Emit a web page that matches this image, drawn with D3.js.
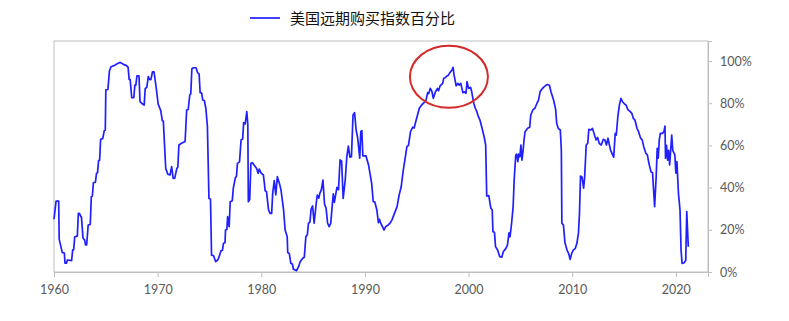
<!DOCTYPE html>
<html>
<head>
<meta charset="utf-8">
<script src="https://cdn.jsdelivr.net/npm/d3@7"></script>
<style>
  html, body { margin: 0; padding: 0; background: #fff; }
  svg { display: block; }
</style>
</head>
<body>
<svg id="chart" width="789" height="321"></svg>
<script>
const seriesName = "美国远期购买指数百分比";
const xTicks = [1960, 1970, 1980, 1990, 2000, 2010, 2020];
const yTicks = [0, 0.2, 0.4, 0.6, 0.8, 1.0];

const years = [
1960.0,1960.2,1960.45,1960.5,1960.8,1961.0,1961.06,1961.2,1961.3,1961.7,1961.8,1961.9,
1962.0,1962.25,1962.35,1962.45,1962.6,1962.65,1962.8,1962.95,1963.05,1963.15,1963.3,1963.5,
1963.6,1963.7,1963.8,1964.0,1964.1,1964.2,1964.3,1964.4,1964.5,1964.7,1964.85,1964.95,
1965.0,1965.2,1965.35,1965.5,1965.8,1966.05,1966.3,1966.45,1966.7,1967.0,1967.15,1967.25,
1967.35,1967.5,1967.7,1967.8,1967.9,1968.0,1968.2,1968.3,1968.45,1968.7,1968.8,1968.95,
1969.1,1969.2,1969.35,1969.5,1969.65,1969.85,1970.05,1970.3,1970.45,1970.55,1970.78,1970.97,
1971.2,1971.35,1971.5,1971.65,1971.85,1971.95,1972.05,1972.3,1972.65,1972.8,1972.95,1973.1,
1973.2,1973.3,1973.45,1973.7,1973.85,1974.0,1974.1,1974.25,1974.35,1974.5,1974.65,1974.8,
1974.95,1975.1,1975.2,1975.4,1975.6,1975.8,1975.95,1976.1,1976.25,1976.35,1976.5,1976.55,
1976.68,1976.75,1976.9,1977.0,1977.2,1977.3,1977.5,1977.6,1977.7,1977.9,1978.05,1978.2,
1978.3,1978.45,1978.6,1978.7,1978.75,1978.88,1979.0,1979.15,1979.3,1979.55,1979.7,1979.8,
1980.0,1980.2,1980.3,1980.37,1980.5,1980.7,1980.85,1981.0,1981.1,1981.25,1981.4,1981.55,
1981.75,1981.9,1982.15,1982.3,1982.5,1982.55,1982.7,1982.85,1983.0,1983.1,1983.25,1983.4,
1983.6,1983.75,1984.0,1984.15,1984.3,1984.45,1984.55,1984.7,1984.8,1984.95,1985.1,1985.3,
1985.4,1985.55,1985.65,1985.8,1985.95,1986.1,1986.25,1986.4,1986.55,1986.7,1986.85,1986.95,
1987.05,1987.3,1987.45,1987.6,1987.75,1987.9,1988.1,1988.25,1988.4,1988.55,1988.7,1988.85,
1989.0,1989.15,1989.3,1989.5,1989.6,1989.7,1989.8,1990.1,1990.35,1990.5,1990.65,1990.8,
1990.95,1991.15,1991.3,1991.4,1991.5,1991.85,1992.0,1992.25,1992.4,1992.6,1992.85,1993.1,
1993.3,1993.5,1993.7,1993.9,1994.05,1994.2,1994.4,1994.6,1994.75,1994.9,1995.1,1995.25,
1995.4,1995.65,1995.9,1996.05,1996.15,1996.3,1996.45,1996.6,1996.8,1997.0,1997.1,1997.25,
1997.5,1997.6,1997.75,1997.9,1998.05,1998.2,1998.4,1998.5,1998.6,1998.8,1998.95,1999.1,
1999.25,1999.45,1999.6,1999.75,1999.85,2000.0,2000.2,2000.3,2000.5,2000.65,2000.8,2000.95,
2001.1,2001.3,2001.5,2001.65,2001.75,2001.95,2002.15,2002.28,2002.35,2002.5,2002.6,2002.8,
2003.0,2003.2,2003.35,2003.6,2003.75,2003.9,2004.0,2004.15,2004.3,2004.4,2004.55,2004.65,
2004.75,2004.85,2004.95,2005.05,2005.15,2005.25,2005.35,2005.45,2005.7,2005.9,2006.0,2006.2,
2006.4,2006.6,2006.75,2006.9,2007.05,2007.2,2007.4,2007.6,2007.8,2007.95,2008.2,2008.4,
2008.5,2008.65,2008.85,2008.95,2009.0,2009.15,2009.3,2009.5,2009.65,2009.8,2009.95,2010.1,
2010.3,2010.45,2010.6,2010.7,2010.8,2010.95,2011.1,2011.2,2011.35,2011.5,2011.6,2011.8,
2011.95,2012.1,2012.3,2012.45,2012.6,2012.8,2013.0,2013.15,2013.3,2013.45,2013.55,2013.7,
2013.9,2014.0,2014.15,2014.25,2014.4,2014.55,2014.7,2014.85,2015.05,2015.2,2015.35,2015.6,
2015.75,2015.9,2016.05,2016.25,2016.4,2016.6,2016.75,2016.9,2017.1,2017.25,2017.4,2017.6,
2017.75,2017.85,2017.95,2018.1,2018.2,2018.3,2018.4,2018.5,2018.7,2018.85,2018.95,2019.0,
2019.1,2019.2,2019.3,2019.4,2019.6,2019.7,2019.9,2020.0,2020.1,2020.25,2020.4,2020.5,
2020.6,2020.8,2020.95,2021.05,2021.1,2021.2
];

const values = [
25,33.6,33.6,15.6,9.2,9,4.2,4.2,5.7,5.4,10.4,10.6,
16.7,17,27.8,27.8,26.2,26,16,15.2,12.8,12.8,22.3,22.6,
35.7,36,42.3,42.6,46.8,47,52.8,53,62.9,63.2,67,67.3,
86.3,86.5,95.4,97.3,97.8,98.6,99.2,99.2,98.4,97.8,97,91.3,
91.2,82.6,82.6,88.6,88.6,93,93,80.7,80,79.1,87,87.4,
92.6,91.3,91.2,94.8,94.8,87.8,79.6,76.5,71.7,71.5,49.1,46.4,
46,49.9,44.4,44.5,49.1,49.8,60.2,61,61.9,76.8,77,83.9,
84.5,96.2,96.8,96.8,94.5,93.8,85,84.8,81.5,81.3,77.6,69.2,
34.9,34.5,8,7.7,4.9,5.7,7.5,10,10.3,13.6,13.9,19.9,
20.2,26.2,21.5,33.3,33.8,39.7,44.7,45.2,51.5,52.2,62.6,63,
70.8,70.2,76,70,33.3,34.3,51.5,51.8,50.7,49.1,46.8,48.8,
46.8,46,42,38.5,38.2,29.4,27.8,27.8,37.3,43.3,36.5,45.2,
42,38.9,29.4,19.9,16.7,9.2,8.8,4.1,3.8,1.3,1,0.6,
2.5,4.9,6.5,7,16.7,17.8,23.1,23.8,29.7,31.3,23.1,32.6,
36.5,35,37.3,39,43.6,32.2,30.3,23.1,21.5,23.1,31.8,37,
33,40.1,39,53.1,52.5,34.9,43.6,54.6,59.7,54.4,54.6,74.4,
75.5,67.3,63.5,53.9,66.5,67,55,55,50.7,46.4,42,33.3,
33.3,29.4,23.4,25,23.4,19.9,21.5,22.3,23,24.6,27.8,31,
36.5,40.4,48.3,54.6,59.4,60,66.5,68.6,68.2,71.2,74.9,77.6,
78.7,80,81.5,85,84.5,87,85.8,82.3,85.4,87,85.9,88.2,
89.4,91.8,92.1,92.9,93.3,94.5,95.7,97,93.4,88.2,89.4,88.6,
89.4,85,85.4,84.7,90.2,87,87.5,85.4,80,77.6,76,73.6,
72,68.1,64.1,60.2,36,36.2,30.2,29.5,19.1,18.8,12,10.4,
7.3,7,9.6,11.2,12.8,18.6,16.7,23.1,31,43.6,55.4,55.9,
52.3,55.9,54.6,60.2,53,57,62.6,66.5,68.1,68.6,74.4,76.8,
77.6,80,81.5,85.4,86.5,87.4,88.2,88.9,88.5,85.4,81.5,77.1,
70.5,68.1,67.3,57.8,23.1,22.3,13.9,10.4,8.8,6,8.8,10.4,
11.2,13.6,18.3,27.8,45.5,44.9,39.7,45.2,60.2,61,67.6,67.3,
68.1,65.7,62.6,63.8,61,60.2,62.9,62.6,60.2,63.4,61,57.8,
55.5,54.4,65.7,64.9,73.6,79.1,82.3,80.7,79.6,79.1,77.1,76,
75.2,72.8,72,68.1,66.5,63.4,62.6,59.4,56.3,55.5,51.5,47.5,
47,38.9,31,45.2,58.6,54,62.6,65.7,65.7,66.5,69.2,53.9,
60,53,57.6,50.7,64.9,57.6,55.5,46.8,52.3,37.3,29.4,10.4,
4.1,4.4,5.4,28.6,23,12
];

const highlightYear = 1998.2;   // centre of the circled peak
const highlightValue = 0.93;

const n = Math.min(years.length, values.length);
const data = years.slice(0, n).map((yr, i) => ({ x: yr, v: values[i] / 100 }));

const svg = d3.select("#chart");
const mLeft = 54, mRight = 708, mTop = 41, mBottom = 272;

const x = d3.scaleLinear().domain([1960, 2023.1]).range([mLeft, mRight]);
const y = d3.scaleLinear().domain([0, 1.0948]).range([mBottom, mTop]);

const axisColor = "#bfbfbf";
const textColor = "#595959";

// frame
svg.append("rect")
  .attr("x", mLeft).attr("y", mTop)
  .attr("width", mRight - mLeft).attr("height", mBottom - mTop)
  .attr("fill", "none").attr("stroke", axisColor).attr("stroke-width", 1);

// x axis
const gx = svg.append("g")
  .attr("transform", `translate(0,${mBottom})`)
  .call(d3.axisBottom(x).tickValues(xTicks).tickFormat(d3.format("d")).tickSize(5).tickPadding(8));
gx.select(".domain").attr("stroke", axisColor);
gx.selectAll(".tick line").attr("stroke", axisColor);
gx.selectAll(".tick text")
  .attr("fill", textColor)
  .style("font-family", "Lato, 'Open Sans', sans-serif")
  .style("font-size", "12.5px");

// y axis (right)
const gy = svg.append("g")
  .attr("transform", `translate(${mRight},0)`)
  .call(d3.axisRight(y).tickValues(yTicks).tickFormat(d3.format(".0%")).tickSize(4).tickPadding(8));
gy.select(".domain").attr("stroke", axisColor);
gy.selectAll(".tick line").attr("stroke", axisColor);
gy.selectAll(".tick text")
  .attr("fill", textColor)
  .style("font-family", "Lato, 'Open Sans', sans-serif")
  .style("font-size", "12.5px");

// line
const line = d3.line().x(d => x(d.x)).y(d => y(d.v)).curve(d3.curveLinear);
svg.append("path")
  .datum(data)
  .attr("fill", "none")
  .attr("stroke", "#1f1fff")
  .attr("stroke-width", 1.7)
  .attr("stroke-linejoin", "round")
  .attr("d", line);

// highlight ellipse
svg.append("ellipse")
  .attr("cx", x(highlightYear) - 1)
  .attr("cy", y(highlightValue) + 1)
  .attr("rx", 39).attr("ry", 31)
  .attr("fill", "none")
  .attr("stroke", "#d42a2a")
  .attr("stroke-width", 2);

// legend
const lg = svg.append("g");
lg.append("line")
  .attr("x1", 250).attr("x2", 280).attr("y1", 18).attr("y2", 18)
  .attr("stroke", "#1f1fff").attr("stroke-width", 1.7);
lg.append("text")
  .attr("x", 290).attr("y", 23.5)
  .attr("fill", "#111")
  .style("font-family", "'Noto Sans CJK SC', sans-serif")
  .style("font-size", "15px")
  .text(seriesName);
</script>
</body>
</html>
